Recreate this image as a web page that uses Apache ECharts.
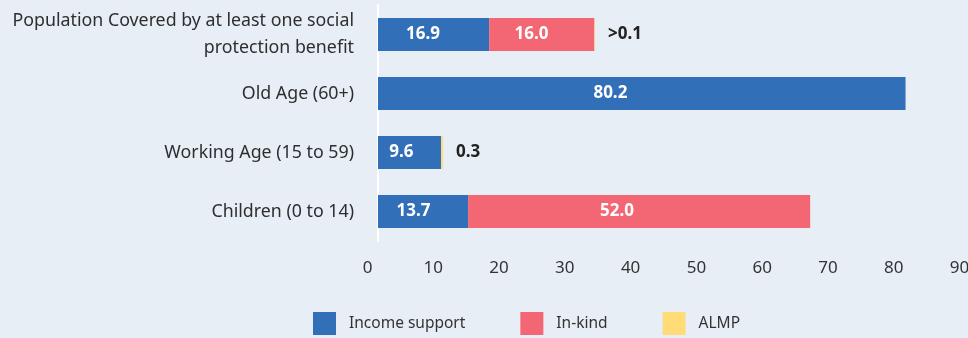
<!DOCTYPE html>
<html>
<head>
<meta charset="utf-8">
<script src="https://cdn.jsdelivr.net/npm/echarts@6/dist/echarts.min.js"></script>
<style>
  html, body { margin: 0; padding: 0; background: #e7eef6; }
  #chart { width: 968px; height: 338px; }
</style>
</head>
<body>
<div id="chart"></div>
<script>
// Social protection coverage by population group (%)
const categories = [
  'Population Covered by at least one social\nprotection benefit',
  'Old Age (60+)',
  'Working Age (15 to 59)',
  'Children (0 to 14)'
];
const incomeSupport = [16.9, 80.2, 9.6, 13.7];
const inKind = [16.0, null, null, 52.0];
const almp = [0.1, null, 0.3, null];
const almpText = ['>0.1', '', '0.3', ''];
const xTicks = { min: 0, max: 90, interval: 10 };

const FONT = '"Noto Sans", "Open Sans", sans-serif';
const COLORS = { income: '#3170b8', inKind: '#f26773', almp: '#ffdc78' };

const insideLabel = {
  show: true,
  position: ['45%', '50%'],
  offset: [-5, 0],
  align: 'center',
  verticalAlign: 'middle',
  color: '#ffffff',
  fontFamily: FONT,
  fontSize: 17,
  fontWeight: 'bold',
  formatter: p => (p.value == null ? '' : p.value.toFixed(1))
};

const chart = echarts.init(document.getElementById('chart'));
chart.setOption({
  backgroundColor: '#e7eef6',
  animation: false,
  textStyle: { fontFamily: FONT },
  grid: {
    left: 378, top: 5, width: 592, bottom: 97,
    containLabel: false,
    outerBoundsMode: 'none'
  },
  xAxis: {
    type: 'value',
    min: xTicks.min,
    max: xTicks.max,
    interval: xTicks.interval,
    axisLine: { show: false },
    axisTick: { show: false },
    splitLine: { show: false },
    axisLabel: {
      margin: 19,
      color: '#333333',
      fontFamily: FONT,
      fontSize: 17,
      padding: [0, 21, 0, 0],
      showMaxLabel: true,
      showMinLabel: true
    }
  },
  yAxis: {
    type: 'category',
    inverse: true,
    data: categories,
    offset: 1,
    axisLine: { show: true, lineStyle: { color: '#ffffff', width: 2 } },
    axisTick: { show: false },
    splitLine: { show: false },
    axisLabel: {
      margin: 23,
      color: '#2e2e2e',
      fontFamily: FONT,
      fontSize: 17.8,
      lineHeight: 27,
      align: 'right'
    }
  },
  legend: {
    left: 313,
    top: 312,
    padding: 0,
    itemWidth: 23,
    itemHeight: 23,
    itemGap: 55,
    icon: 'rect',
    textStyle: { color: '#333333', fontFamily: FONT, fontSize: 15.5, padding: [0, 0, 0, 8] },
    data: ['Income support', 'In-kind', 'ALMP']
  },
  series: [
    {
      name: 'Income support',
      type: 'bar',
      stack: 'total',
      barWidth: 33,
      data: incomeSupport,
      itemStyle: { color: COLORS.income },
      label: insideLabel
    },
    {
      name: 'In-kind',
      type: 'bar',
      stack: 'total',
      barWidth: 33,
      data: inKind,
      itemStyle: { color: COLORS.inKind },
      label: insideLabel
    },
    {
      name: 'ALMP',
      type: 'bar',
      stack: 'total',
      barWidth: 33,
      data: almp,
      itemStyle: { color: COLORS.almp },
      label: {
        show: true,
        position: 'right',
        distance: 13,
        color: '#222222',
        fontFamily: FONT,
        fontSize: 17,
        fontWeight: 'bold',
        formatter: p => almpText[p.dataIndex]
      }
    }
  ]
});
</script>
</body>
</html>
